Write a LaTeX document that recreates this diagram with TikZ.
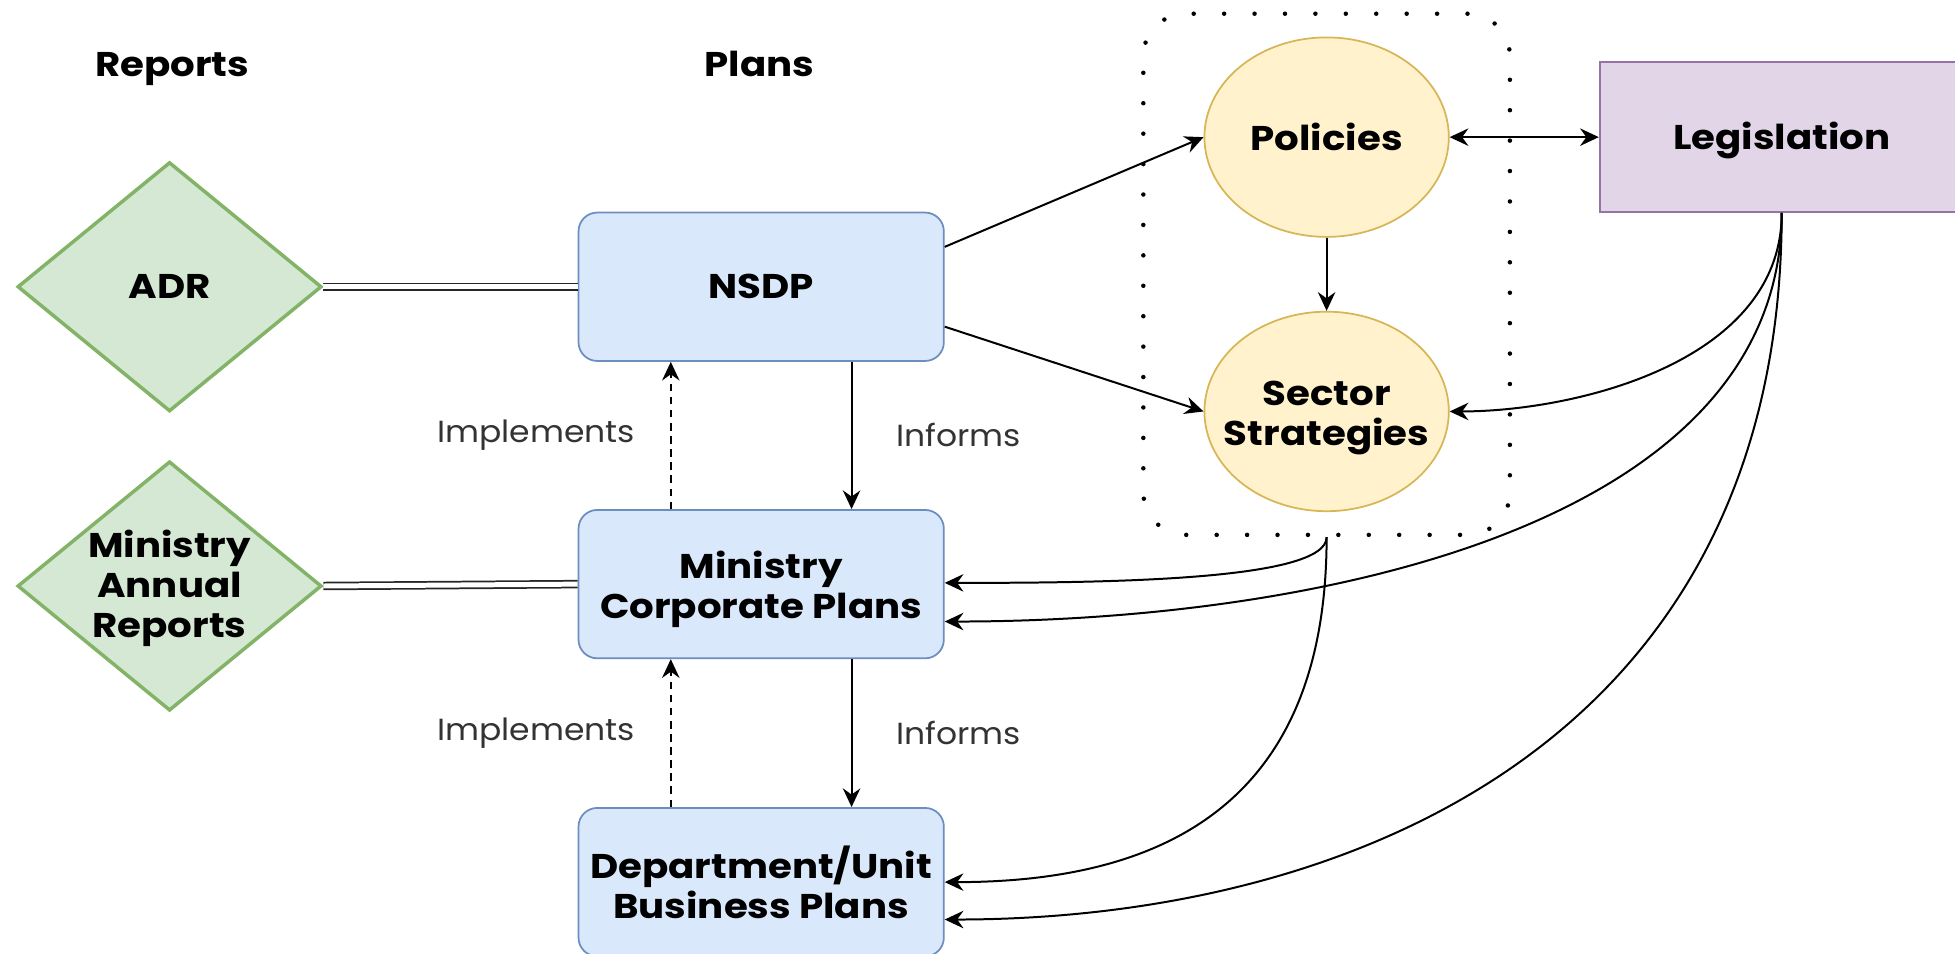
\documentclass[tikz,border=0pt]{standalone}
\usepackage{fontspec}
\setmainfont{Poppins}
\newfontfamily\diagfont[FakeStretch=1.13]{Poppins}
\newfontfamily\notefont[FakeStretch=1.08]{Poppins}
\usetikzlibrary{shapes.geometric,arrows.meta,calc}

\definecolor{planfill}{HTML}{DAE8FC}
\definecolor{planline}{HTML}{6C8EBF}
\definecolor{repfill}{HTML}{D5E8D4}
\definecolor{repline}{HTML}{82B366}
\definecolor{polfill}{HTML}{FFF2CC}
\definecolor{polline}{HTML}{D6B656}
\definecolor{legfill}{HTML}{E1D5E7}
\definecolor{legline}{HTML}{9673A6}
\definecolor{labeltext}{HTML}{333333}

\tikzset{
  boldtext/.style={font=\diagfont\fontsize{27.5}{32}\selectfont\bfseries},
  plan/.style={boldtext, draw=planline, fill=planfill, line width=1.4pt, rounded corners=15pt,
    minimum width=293pt, minimum height=119pt, align=center},
  report/.style={draw=repline, fill=repfill, line width=2.8pt, diamond, inner sep=0pt,
    minimum width=244pt, minimum height=200pt},
  inner text/.style={boldtext, align=center},
  policy/.style={draw=polline, fill=polfill, line width=1.4pt, ellipse, inner sep=0pt,
    minimum width=196pt, minimum height=160pt},
  law/.style={boldtext, draw=legline, fill=legfill, line width=1.4pt, minimum width=292pt,
    minimum height=120pt},
  heading/.style={boldtext, anchor=base},
  edgelabel/.style={inner sep=0pt, text=labeltext, font=\notefont\fontsize{24.5}{30}\selectfont},
  groupbox/.style={draw, line width=3.6pt, line cap=round, dash pattern=on 0pt off 24.4pt,
    rounded corners=34pt, minimum width=294pt, minimum height=418pt},
  arr/.style={-{Stealth[length=15pt,width=14pt,inset=5pt]}, line width=1.6pt},
  biarr/.style={{Stealth[length=15pt,width=14pt,inset=5pt]}-{Stealth[length=15pt,width=14pt,inset=5pt]}, line width=1.6pt},
  implarr/.style={arr, dash pattern=on 6pt off 4.5pt},
  link/.style={double, double distance=4pt, line width=1.4pt, draw=black!85},
}

\begin{document}
\begin{tikzpicture}[x=1pt,y=-1pt]
\useasboundingbox (0,0) rectangle (1568,765);
\clip (0,0) rectangle (1568,765);

% column headings
\node[heading] (hrep) at (138,61) {Reports};
\node[heading] (hplan) at (609,61) {Plans};

% report diamonds
\node[report, label={[inner text]center:ADR}] (adr) at (136,230) {};
\node[report, label={[inner text, yshift=-2pt]center:Ministry\\Annual\\Reports}] (mar) at (136,470) {};

% plan boxes
\node[plan] (nsdp) at (610.5,230) {NSDP};
\node[plan, label={[inner text, yshift=-4pt]center:Ministry\\Corporate Plans}] (mcp) at (610.5,468.5) {};
\node[plan] (dubp) at (610.5,707.5) {Department/Unit\\Business Plans};

% policies group
\node[groupbox] (grp) at (1064,220) {};
\node[policy, label={[inner text]center:Policies}] (pol) at (1064,110) {};
\node[policy, label={[inner text, yshift=-5pt]center:Sector\\Strategies}] (sec) at (1064,330) {};

% legislation
\node[law, label={[inner text, yshift=-3pt]center:Legislation}] (leg) at (1429,110) {};

% reports to plans
\draw[link] (adr.east) -- (nsdp.west);
\draw[link] (mar.east) -- (mcp.west);

% informs / implements
\draw[arr] ($(nsdp.south)+(72.5,0)$) -- node[edgelabel, anchor=west, xshift=35pt] {Informs} ($(mcp.north)+(72.5,0)$);
\draw[arr] ($(mcp.south)+(72.5,0)$) -- node[edgelabel, anchor=west, xshift=35pt] {Informs} ($(dubp.north)+(72.5,0)$);
\draw[implarr] ($(mcp.north)+(-72.5,0)$) -- node[edgelabel, anchor=east, xshift=-28pt] {Implements} ($(nsdp.south)+(-72.5,0)$);
\draw[implarr] ($(dubp.north)+(-72.5,0)$) -- node[edgelabel, anchor=east, xshift=-28pt] {Implements} ($(mcp.south)+(-72.5,0)$);

% NSDP to policies and strategies
\draw[arr] ($(nsdp.east)+(0,-32)$) -- (pol.west);
\draw[arr] ($(nsdp.east)+(0,32)$) -- (sec.west);
\draw[arr] (pol.south) -- (sec.north);
\draw[biarr] (pol.east) -- (leg.west);

% legislation influences
\draw[arr] (leg.south) .. controls +(0,120) and +(100,0) .. (sec.east);
\draw[arr] (leg.south) .. controls +(0,250) and +(300,0) .. ($(mcp.east)+(0,30)$);
\draw[arr] (leg.south) .. controls +(0,420) and +(330,0) .. ($(dubp.east)+(0,30)$);

% policies group influences
\draw[arr] (grp.south) .. controls +(0,35) and +(130,0) .. ($(mcp.east)+(0,-1)$);
\draw[arr] (grp.south) .. controls +(0,210) and +(180,0) .. (dubp.east);
\end{tikzpicture}
\end{document}
